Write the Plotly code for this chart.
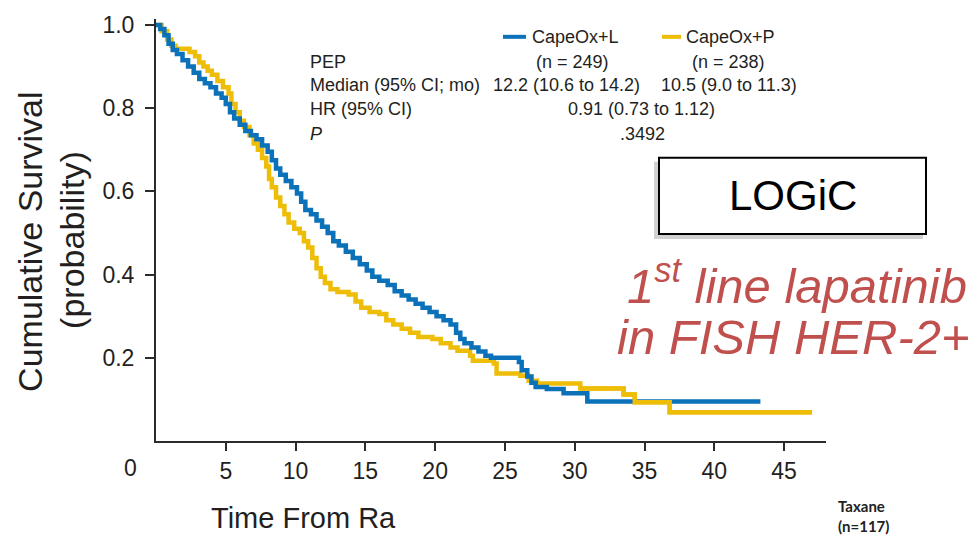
import plotly.graph_objects as go

# ---------------- data ----------------
months_L = [0, 0.3, 0.6, 0.9, 1.2, 1.5, 1.9, 2.3, 2.7, 3.1, 3.5, 3.9, 4.3, 4.7, 5.0, 5.3, 5.6, 6.0,
            6.4, 6.8, 7.2, 7.6, 8.0, 8.3, 8.6, 8.9, 9.3, 9.7, 10.1, 10.4, 10.7, 11.1, 11.5, 11.9,
            12.3, 12.7, 13.1, 13.6, 14.1, 14.6, 15.1, 15.5, 16.0, 16.6, 17.1, 17.6, 18.1, 18.6,
            19.1, 19.6, 20.1, 20.6, 21.1, 21.5, 21.8, 22.1, 22.6, 23.1, 23.6, 24.0, 26.0, 26.2,
            26.6, 26.9, 27.2, 28.0, 29.2, 30.9, 43.3]
surv_L = [1.0, 0.99, 0.975, 0.955, 0.94, 0.93, 0.915, 0.90, 0.885, 0.87, 0.86, 0.85, 0.835, 0.825,
          0.81, 0.79, 0.775, 0.76, 0.745, 0.735, 0.725, 0.71, 0.695, 0.675, 0.655, 0.64, 0.625,
          0.61, 0.595, 0.575, 0.555, 0.545, 0.53, 0.515, 0.50, 0.48, 0.47, 0.455, 0.44, 0.425,
          0.41, 0.395, 0.385, 0.375, 0.36, 0.35, 0.34, 0.33, 0.32, 0.31, 0.30, 0.29, 0.28, 0.26,
          0.245, 0.235, 0.225, 0.215, 0.205, 0.20, 0.19, 0.17, 0.155, 0.14, 0.13, 0.125, 0.115,
          0.095, 0.095]

months_P = [0, 0.4, 0.8, 1.1, 1.4, 2.4, 2.8, 3.1, 3.4, 3.7, 4.0, 4.4, 4.8, 5.2, 5.4, 5.7, 6.0, 6.3,
            6.7, 7.0, 7.3, 7.6, 7.9, 8.1, 8.3, 8.6, 8.9, 9.2, 9.5, 9.9, 10.3, 10.6, 10.9, 11.2,
            11.5, 11.8, 12.1, 12.5, 13.0, 13.8, 14.3, 14.7, 15.3, 16.0, 16.5, 17.0, 17.6, 18.2,
            18.8, 19.8, 20.4, 21.1, 21.6, 22.5, 22.7, 24.2, 24.4, 26.1, 26.7, 27.3, 30.4, 33.5,
            34.3, 36.8, 47.0]
surv_P = [1.0, 0.985, 0.965, 0.95, 0.943, 0.935, 0.925, 0.91, 0.90, 0.89, 0.88, 0.865, 0.85, 0.835,
          0.81, 0.79, 0.77, 0.755, 0.735, 0.715, 0.70, 0.68, 0.66, 0.63, 0.61, 0.585, 0.565, 0.545,
          0.525, 0.51, 0.50, 0.48, 0.465, 0.44, 0.415, 0.395, 0.38, 0.365, 0.358, 0.352, 0.335,
          0.32, 0.31, 0.305, 0.29, 0.28, 0.27, 0.26, 0.25, 0.245, 0.235, 0.225, 0.217, 0.205,
          0.193, 0.186, 0.162, 0.157, 0.145, 0.138, 0.126, 0.112, 0.093, 0.069, 0.069]

series_names = ["CapeOx+L", "CapeOx+P"]
series_n = ["(n = 249)", "(n = 238)"]
series_median = ["12.2 (10.6 to 14.2)", "10.5 (9.0 to 11.3)"]
hr_text = "0.91 (0.73 to 1.12)"
p_text = ".3492"
row_labels = ["PEP", "Median (95% CI; mo)", "HR (95% CI)", "<i>P</i>"]

x_ticks = [5, 10, 15, 20, 25, 30, 35, 40, 45]
y_ticks = [0.2, 0.4, 0.6, 0.8, 1.0]
y_tick_labels = ["0.2", "0.4", "0.6", "0.8", "1.0"]

BLUE = "#0b72ba"
YELLOW = "#eebd07"
TXT = "#231f20"
ARIAL = "Liberation Sans, Arial, sans-serif"

# ---------------- geometry helpers (pixel -> paper) ----------------
W, H = 976, 537
L_M, R_M, T_M, B_M = 156, 150, 15, 96
PW = W - L_M - R_M
PH = H - T_M - B_M


def px(x):
    return (x - L_M) / PW


def py(y):
    return (H - B_M - y) / PH


fig = go.Figure()
fig.add_trace(go.Scatter(x=months_P, y=surv_P, mode="lines", line=dict(color=YELLOW, width=4.5, shape="hv"),
                         name=series_names[1], showlegend=False))
fig.add_trace(go.Scatter(x=months_L, y=surv_L, mode="lines", line=dict(color=BLUE, width=4.5, shape="hv"),
                         name=series_names[0], showlegend=False))
# yellow tail drawn over blue where it overlays it in the reference
fig.add_trace(go.Scatter(x=months_P[-5:], y=surv_P[-5:], mode="lines",
                         line=dict(color=YELLOW, width=4.5, shape="hv"), showlegend=False, hoverinfo="skip"))

fig.update_layout(
    width=W, height=H,
    margin=dict(l=L_M, r=R_M, t=T_M, b=B_M),
    paper_bgcolor="white", plot_bgcolor="white",
    xaxis=dict(range=[0, 48], tickvals=x_ticks, showgrid=False, zeroline=False,
               showline=True, linecolor="#2b2b2b", linewidth=2,
               ticks="outside", ticklen=8, tickwidth=2, tickcolor="#2b2b2b",
               tickfont=dict(family=ARIAL, size=23, color=TXT)),
    yaxis=dict(range=[0, PH / 420], tickvals=y_ticks, ticktext=y_tick_labels, showgrid=False, zeroline=False,
               showline=True, linecolor="#2b2b2b", linewidth=2,
               ticks="outside", ticklen=9, tickwidth=2, tickcolor="#2b2b2b",
               ticklabelstandoff=6,
               tickfont=dict(family=ARIAL, size=23, color=TXT)),
)

ann = []


def add_text(text, x, y, size, xanchor="left", family=ARIAL, color=TXT, **kw):
    ann.append(dict(text=text, x=px(x), y=py(y), xref="paper", yref="paper", xanchor=xanchor,
                    yanchor="middle", showarrow=False, font=dict(family=family, size=size, color=color), **kw))


# "0" tick label offset left of axis
add_text("0", 130, 468, 23, xanchor="center")

# axis titles
add_text("Cumulative Survival", 30, 240, 34, xanchor="center", textangle=-90)
add_text("(probability)", 72, 238, 34, xanchor="center", textangle=-90)
add_text("Time From Ra", 209, 519, 29)

# stats table
TS = 18
rows_y = [33, 58, 82, 106, 131]
add_text(series_names[0], 530, rows_y[0], TS)
add_text(series_names[1], 684, rows_y[0], TS)
add_text(row_labels[0], 308, rows_y[1], TS)
add_text(series_n[0], 572, rows_y[1], TS, xanchor="center")
add_text(series_n[1], 728, rows_y[1], TS, xanchor="center")
add_text(row_labels[1], 308, rows_y[2], TS)
add_text(series_median[0], 566, rows_y[2], TS, xanchor="center")
add_text(series_median[1], 729, rows_y[2], TS, xanchor="center")
add_text(row_labels[2], 308, rows_y[3], TS)
add_text(hr_text, 641, rows_y[3], TS, xanchor="center")
add_text(row_labels[3], 308, rows_y[4], TS)
add_text(p_text, 642, rows_y[4], TS, xanchor="center")

# LOGiC box text
add_text("LOGiC", 793, 193, 42, xanchor="center", color="black")
# red italic annotation
RED = "#c0504d"
add_text("<i>1<sup>st</sup> line lapatinib</i>", 625, 280, 49, color=RED)
add_text("<i>in FISH HER-2+</i>", 615, 336, 49, color=RED)

# bottom-right label
add_text("<b>Taxane</b>", 836, 507, 15, family="Lato, Open Sans, sans-serif", color="#222")
add_text("<b>(n=117)</b>", 836, 527, 15, family="Lato, Open Sans, sans-serif", color="#222")

shapes = [
    dict(type="line", xref="paper", yref="paper", x0=px(503), x1=px(526), y0=py(rows_y[0]), y1=py(rows_y[0]),
         line=dict(color=BLUE, width=4)),
    dict(type="line", xref="paper", yref="paper", x0=px(662), x1=px(681), y0=py(rows_y[0]), y1=py(rows_y[0]),
         line=dict(color=YELLOW, width=4)),
    # box shadow
    dict(type="rect", xref="paper", yref="paper", x0=px(654), x1=px(923), y0=py(237), y1=py(159),
         fillcolor="rgba(0,0,0,0.18)", line=dict(width=0), layer="above"),
    dict(type="rect", xref="paper", yref="paper", x0=px(659), x1=px(926), y0=py(232), y1=py(155),
         fillcolor="white", line=dict(color="black", width=2), layer="above"),
]

fig.update_layout(annotations=ann, shapes=shapes)
fig.write_html("out.html", config={"displayModeBar": False},
               post_script="document.body.style.margin='0';document.body.style.overflow='hidden';")
